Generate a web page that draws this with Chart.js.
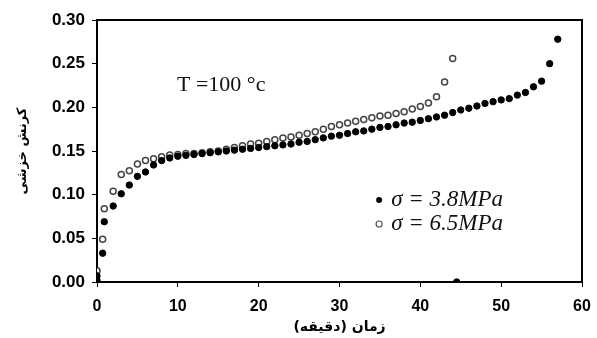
<!DOCTYPE html>
<html>
<head>
<meta charset="utf-8">
<script src="https://cdn.jsdelivr.net/npm/chart.js@4.4.0/dist/chart.umd.min.js"></script>
<style>
  html, body { margin: 0; padding: 0; background: #fff; }
  #wrap { width: 597px; height: 338px; position: relative; }
</style>
</head>
<body>
<div id="wrap"><canvas id="chart" width="597" height="338"></canvas></div>
<script>
// creep strain vs time, T = 100 C
const timeLow = [0, 0, 0.7, 0.9, 2, 3, 4, 5, 6, 7, 8, 9, 10, 11, 12, 13, 14, 15, 16, 17, 18, 19, 20,
  21, 22, 23, 24, 25, 26, 27, 28, 29, 30, 31, 32, 33, 34, 35, 36, 37, 38, 39, 40, 41, 42, 43,
  44, 45, 46, 47, 48, 49, 50, 51, 52, 53, 54, 55, 56, 57, 44.5];
const strainLow = [0.002, 0.007, 0.033, 0.069, 0.087, 0.101, 0.111, 0.121, 0.126, 0.134, 0.139, 0.142, 0.144,
  0.145, 0.146, 0.147, 0.148, 0.149, 0.150, 0.151, 0.152, 0.153, 0.154, 0.155, 0.156, 0.157, 0.158,
  0.160, 0.161, 0.163, 0.165, 0.167, 0.168, 0.170, 0.172, 0.173, 0.175, 0.177, 0.178, 0.180, 0.182,
  0.183, 0.185, 0.187, 0.189, 0.191, 0.194, 0.197, 0.199, 0.2015, 0.2045, 0.2065, 0.2085, 0.210,
  0.214, 0.217, 0.2235, 0.230, 0.250, 0.278, 0.0];

const timeHigh = [0, 0.7, 0.9, 2, 3, 4, 5, 6, 7, 8, 9, 10, 11, 12, 13, 14, 15, 16, 17, 18, 19, 20,
  21, 22, 23, 24, 25, 26, 27, 28, 29, 30, 31, 32, 33, 34, 35, 36, 37, 38, 39, 40, 41, 42, 43, 44];
const strainHigh = [0.013, 0.049, 0.084, 0.104, 0.123, 0.1275, 0.135, 0.139, 0.141, 0.1435, 0.1455, 0.146,
  0.147, 0.147, 0.148, 0.149, 0.150, 0.152, 0.154, 0.156, 0.158, 0.159, 0.161, 0.163, 0.165, 0.166,
  0.168, 0.170, 0.172, 0.175, 0.178, 0.180, 0.182, 0.184, 0.186, 0.188, 0.190, 0.191, 0.193, 0.195,
  0.198, 0.201, 0.205, 0.212, 0.229, 0.256];

const seriesNames = ['σ = 3.8MPa', 'σ = 6.5MPa'];
const xTicks = [0, 10, 20, 30, 40, 50, 60];
const yTicks = [0, 0.05, 0.10, 0.15, 0.20, 0.25, 0.30];

function toPoints(xs, ys) {
  return xs.map((x, i) => ({ x: x, y: ys[i] }));
}

// frame, temperature note and legend drawn on top
const extras = {
  id: 'extras',
  afterDraw(chart) {
    const ctx = chart.ctx;
    const a = chart.chartArea;
    const xs = chart.scales.x;
    const ys = chart.scales.y;
    ctx.save();
    ctx.strokeStyle = '#000';
    ctx.lineWidth = 2;
    ctx.beginPath();
    ctx.moveTo(a.left, a.top);
    ctx.lineTo(a.right, a.top);
    ctx.lineTo(a.right, a.bottom);
    ctx.stroke();

    ctx.fillStyle = '#111';
    ctx.font = '22px "Liberation Serif"';
    ctx.textBaseline = 'middle';
    ctx.textAlign = 'left';
    ctx.fillText('T =100 °c', xs.getPixelForValue(9.9), ys.getPixelForValue(0.2256));

    // legend
    const rows = [0.094, 0.0664];
    rows.forEach((v, i) => {
      const py = ys.getPixelForValue(v);
      const px = xs.getPixelForValue(34.9);
      ctx.beginPath();
      ctx.arc(px, py, 3, 0, Math.PI * 2);
      if (i === 0) {
        ctx.fillStyle = '#000';
        ctx.fill();
      } else {
        ctx.fillStyle = '#fff';
        ctx.fill();
        ctx.lineWidth = 1.2;
        ctx.strokeStyle = '#555';
        ctx.stroke();
      }
      ctx.fillStyle = '#111';
      ctx.font = 'italic 23px "Liberation Serif"';
      ctx.fillText(seriesNames[i], xs.getPixelForValue(36.4), py);
    });
    ctx.restore();
  }
};

new Chart(document.getElementById('chart'), {
  type: 'scatter',
  data: {
    datasets: [
      {
        label: seriesNames[0],
        data: toPoints(timeLow, strainLow),
        pointStyle: 'circle',
        pointRadius: 3.2,
        backgroundColor: '#000',
        borderColor: '#000',
        borderWidth: 1
      },
      {
        label: seriesNames[1],
        data: toPoints(timeHigh, strainHigh),
        pointStyle: 'circle',
        pointRadius: 3,
        backgroundColor: '#fff',
        borderColor: '#444',
        borderWidth: 1.5
      }
    ]
  },
  options: {
    responsive: false,
    animation: false,
    layout: { padding: { top: 20, right: 15, bottom: 0, left: 8 } },
    plugins: {
      legend: { display: false },
      tooltip: { enabled: false }
    },
    scales: {
      x: {
        type: 'linear',
        min: 0,
        max: 60,
        afterBuildTicks: (axis) => { axis.ticks = xTicks.map(v => ({ value: v })); },
        afterFit: (axis) => { axis.height = 56; axis.paddingRight = 0; axis.paddingLeft = 0; },
        ticks: { color: '#000', font: { family: 'Liberation Sans', size: 16, weight: 'bold' }, padding: 10, maxRotation: 0 },
        grid: { drawOnChartArea: false, drawTicks: true, tickLength: 5, color: '#000', lineWidth: 1 },
        border: { color: '#000', width: 2 },
        title: {
          display: true,
          text: 'زمان (دقیقه)',
          color: '#000',
          font: { family: 'DejaVu Sans', size: 14, weight: 'bold' },
          padding: { top: 0, bottom: 2 }
        }
      },
      y: {
        min: 0,
        max: 0.3,
        afterBuildTicks: (axis) => { axis.ticks = yTicks.map(v => ({ value: v })); },
        afterFit: (axis) => { axis.width = 89; },
        ticks: {
          color: '#000',
          font: { family: 'Liberation Sans', size: 17, weight: 'bold' },
          padding: 7,
          callback: (v) => Number(v).toFixed(2)
        },
        grid: { drawOnChartArea: false, drawTicks: true, tickLength: 5, color: '#000', lineWidth: 1 },
        border: { color: '#000', width: 2 },
        title: {
          display: true,
          text: 'کرنش خزشی',
          color: '#000',
          font: { family: 'DejaVu Sans', size: 13, weight: 'bold' },
          padding: { top: 7, bottom: 4 }
        }
      }
    }
  },
  plugins: [extras]
});
</script>
</body>
</html>
